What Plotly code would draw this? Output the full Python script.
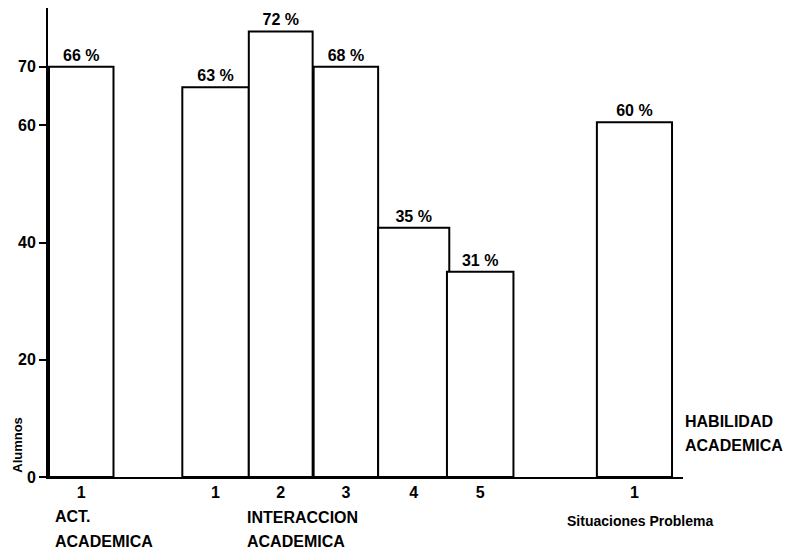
import plotly.graph_objects as go

# data
groups = ["ACT. ACADEMICA", "INTERACCION ACADEMICA", "INTERACCION ACADEMICA",
          "INTERACCION ACADEMICA", "INTERACCION ACADEMICA", "INTERACCION ACADEMICA",
          "HABILIDAD ACADEMICA"]
item_labels = ["1", "1", "2", "3", "4", "5", "1"]
alumnos = [70, 66.5, 76, 70, 42.5, 35, 60.5]
pct_labels = ["66 %", "63 %", "72 %", "68 %", "35 %", "31 %", "60 %"]
y_ticks = [0, 20, 40, 60, 70]

# layout positions (slot units, one slot = one bar width)
x_pos = [0.5, 2.52, 3.5, 4.48, 5.5, 6.5, 8.82]
widths = [0.97, 1.0, 0.96, 0.97, 1.07, 1.0, 1.13]

fig = go.Figure()
fig.add_trace(go.Bar(
    x=x_pos, y=alumnos, width=widths,
    marker=dict(color="white", line=dict(color="black", width=2)),
    text=pct_labels, textposition="outside", cliponaxis=False,
    textfont=dict(family="Liberation Sans", size=16, color="black", weight="bold"),
    showlegend=False, hoverinfo="skip",
))

font_b = dict(family="Liberation Sans", size=16, color="black", weight="bold")

fig.update_layout(
    width=791, height=552,
    margin=dict(l=40, r=116, t=0, b=83, autoexpand=False),
    paper_bgcolor="white", plot_bgcolor="white",
    xaxis=dict(range=[0, 9.55], tickvals=x_pos, ticktext=item_labels,
               showgrid=False, zeroline=False, showline=True, linecolor="black",
               linewidth=2, ticks="", tickfont=font_b, fixedrange=True, automargin=False),
    yaxis=dict(range=[0, 80], tickvals=y_ticks, ticktext=[str(v) for v in y_ticks],
               showgrid=False, zeroline=False, showline=True, linecolor="black",
               linewidth=2, ticks="outside", ticklen=7, tickwidth=1.5, tickcolor="black",
               tickfont=font_b, fixedrange=True, automargin=False),
)

anns = [
    ("ACT.", 0.08, -39, 16),
    ("ACADEMICA", 0.08, -64, 16),
    ("INTERACCION", 2.97, -40, 16),
    ("ACADEMICA", 2.97, -64, 16),
    ("Situaciones Problema", 7.78, -44, 14),
]
for txt, xv, ys, sz in anns:
    fig.add_annotation(x=xv, xref="x", y=0, yref="y", text=txt, showarrow=False,
                       xanchor="left", yanchor="middle", yshift=ys,
                       font=dict(family="Liberation Sans", size=sz, color="black", weight="bold"))

fig.add_annotation(x=1.0, xref="paper", y=9.5, yref="y", text="HABILIDAD", showarrow=False,
                   xanchor="left", yanchor="middle", font=font_b)
fig.add_annotation(x=1.0, xref="paper", y=5.3, yref="y", text="ACADEMICA", showarrow=False,
                   xanchor="left", yanchor="middle", font=font_b)
fig.add_annotation(x=0, xref="paper", xshift=-30, y=5.5, yref="y", text="Alumnos",
                   showarrow=False, textangle=-90, xanchor="center", yanchor="middle",
                   font=dict(family="Liberation Sans", size=13, color="black", weight="bold"))

fig.write_html("out.html")
